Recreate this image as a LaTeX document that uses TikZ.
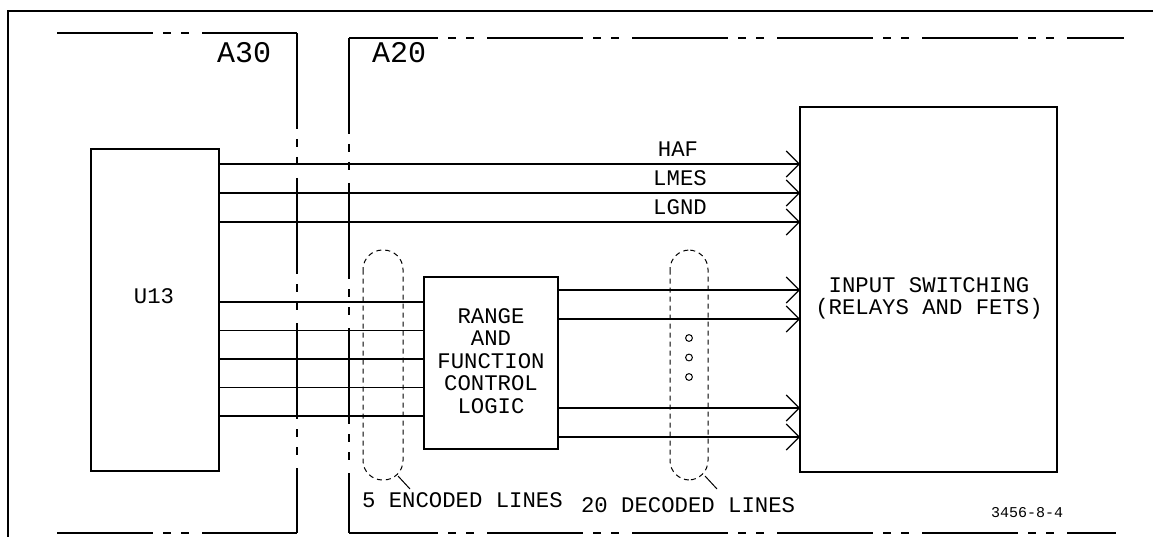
\documentclass[tikz,border=0pt]{standalone}
\usepackage{fontspec}
\setmonofont{Liberation Mono}
\usetikzlibrary{arrows.meta}
\begin{document}
\begin{tikzpicture}[x=1pt,y=-1pt,
  every node/.style={inner sep=0pt, outer sep=0pt},
  lbl/.style={font=\ttfamily\fontsize{22.3}{22.5}\selectfont, anchor=base},
  lblw/.style={font=\ttfamily\fontsize{22.3}{22.5}\selectfont, anchor=base west},
  bigl/.style={font=\ttfamily\fontsize{30}{30}\selectfont, anchor=base west},
  smalll/.style={font=\ttfamily\fontsize{15}{15}\selectfont, anchor=base west},
  box/.style={draw, line width=1.3pt},
  frameline/.style={line width=2.6pt},
  phantom/.style={line width=1.2pt, dash pattern=on 96pt off 10pt on 8pt off 10pt on 8pt off 13pt},
  wire/.style={line width=1.2pt},
  bus/.style={line width=1.9pt},
  sig/.style={-{Straight Barb[length=13pt,width=26pt,line width=1.1pt]}},
  group/.style={line width=1pt, dash pattern=on 5pt off 4pt, rounded corners=19.5pt},
  leader/.style={line width=1pt}
]
\useasboundingbox (0,0) rectangle (1153,537);

% outer frame
\draw[frameline] (8,537) -- (8,11) -- (1153,11);

% A30 region
\draw[phantom] (57,33) -- (297,33);
\draw[phantom] (297,33) -- (297,533);
\draw[phantom] (57,533) -- (297,533);
\node[bigl] (a30) at (217,62.5) {A30};

% A20 region
\draw[phantom, dash phase=7pt] (349,38) -- (1124,38);
\draw[phantom] (349,38) -- (349,533);
\draw[phantom, dash phase=7pt] (349,533) -- (1116,533);
\node[bigl] (a20) at (372,62.5) {A20};

% boxes
\node[box, minimum width=128pt, minimum height=322pt] (u13) at (155,310) {};
\node[lbl] (u13t) at (154,303.5) {U13};

\node[box, minimum width=134pt, minimum height=172pt] (range) at (491,363) {};
\node[lbl, anchor=center, align=center] (ranget) at (491,361)
  {RANGE\\AND\\FUNCTION\\CONTROL\\LOGIC};

\node[box, minimum width=257pt, minimum height=365pt] (inbox) at (928.5,289.5) {};
\node[lbl] (inbox1) at (929,292) {INPUT SWITCHING};
\node[lbl] (inbox2) at (929,314) {(RELAYS AND FETS)};

% direct signals
\draw[bus,sig] (u13.east |- 0,164) -- (inbox.west |- 0,164);
\draw[bus,sig] (u13.east |- 0,193) -- (inbox.west |- 0,193);
\draw[bus,sig] (u13.east |- 0,222) -- (inbox.west |- 0,222);
\node[lbl] (haf) at (678,157) {HAF};
\node[lbl] (lmes) at (680,186) {LMES};
\node[lbl] (lgnd) at (680,215) {LGND};

% encoded lines
\foreach \yy in {302,330.5,359,387.5,416}
  \draw[wire] (u13.east |- 0,\yy) -- (range.west |- 0,\yy);

% decoded lines
\foreach \yy in {290,319,408,437}
  \draw[wire,sig] (range.east |- 0,\yy) -- (inbox.west |- 0,\yy);

% dots
\foreach \yy in {338,357.5,377}
  \draw[line width=1pt] (689,\yy) circle[radius=3.4pt];

% groupings
\draw[group] (363,250) rectangle (403,480);
\draw[group] (670,250) rectangle (708,480);
\coordinate (g1a) at (398,476);
\coordinate (g1b) at (410,489);
\coordinate (g2a) at (705,476);
\coordinate (g2b) at (717,489);
\draw[leader] (g1a) -- (g1b);
\draw[leader] (g2a) -- (g2b);
\node[lblw] (enc) at (362,507) {5 ENCODED LINES};
\node[lblw] (dec) at (581,512) {20 DECODED LINES};
\node[smalll] (fig) at (991,517) {3456-8-4};
\end{tikzpicture}
\end{document}
